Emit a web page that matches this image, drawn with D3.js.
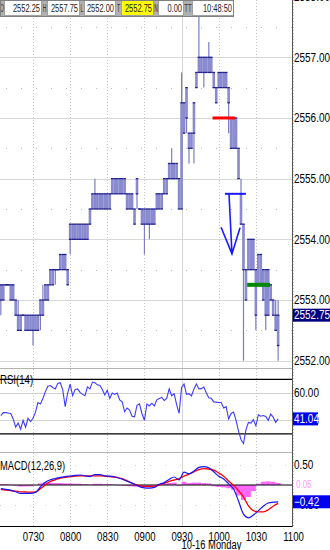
<!DOCTYPE html>
<html>
<head>
<meta charset="utf-8">
<script src="https://cdn.jsdelivr.net/npm/d3@7"></script>
<style>
  body { margin: 0; background: #fff; }
  svg { display: block; font-family: "Liberation Sans", Arial, sans-serif; }
</style>
</head>
<body>
<div id="chart"></div>
<script>
// 2-minute bars starting 07:04 (minutes after midnight)
const firstBar = 424, barStep = 2;

const opens = [2553.00,2553.25,2553.25,2553.25,2553.25,2553.00,2553.00,2552.75,2552.50,2552.75,
  2552.75,2552.50,2552.75,2552.50,2552.75,2552.50,2552.75,2553.00,2553.00,2553.25,
  2553.25,2553.50,2553.50,2553.50,2553.50,2553.75,2553.50,2553.50,2554.00,2554.25,
  2554.00,2554.25,2554.00,2554.25,2554.00,2554.25,2554.25,2554.50,2554.75,2554.50,
  2554.75,2554.50,2554.75,2554.50,2554.75,2554.75,2555.00,2554.75,2555.00,2554.75,
  2555.00,2554.75,2554.50,2554.75,2554.50,2554.75,2554.50,2554.50,2554.25,2554.50,
  2554.25,2554.50,2554.25,2554.50,2554.75,2554.50,2554.75,2555.00,2555.00,2555.25,
  2555.00,2555.25,2555.00,2554.50,2556.25,2556.00,2555.75,2555.50,2555.75,2556.50,
  2556.75,2557.00,2556.75,2557.00,2556.75,2557.00,2556.75,2556.50,2556.50,2556.75,
  2556.50,2556.75,2556.50,2556.00,2555.50,2556.00,2555.50,2554.75,2554.25,2553.50,
  2553.50,2554.00,2553.50,2553.50,2553.25,2553.75,2553.50,2552.75,2553.50,2553.00,
  2553.00,2552.75,2552.25];
const highs = [2553.25,2553.25,2553.25,2553.25,2553.25,2553.25,2553.00,2553.00,2552.75,2552.75,
  2552.75,2552.75,2552.75,2552.75,2552.75,2552.75,2553.00,2553.25,2553.25,2553.25,
  2553.50,2553.50,2553.50,2553.50,2553.75,2553.75,2553.75,2553.50,2554.25,2554.25,
  2554.25,2554.25,2554.25,2554.25,2554.25,2554.25,2554.50,2554.75,2555.00,2554.75,
  2554.75,2554.75,2554.75,2554.75,2554.75,2555.00,2555.00,2555.00,2555.00,2555.00,
  2555.00,2554.75,2554.75,2554.75,2554.50,2555.00,2554.50,2554.50,2554.50,2554.50,
  2554.50,2554.50,2554.50,2554.75,2554.75,2554.75,2555.00,2555.00,2555.25,2555.50,
  2555.25,2555.25,2555.00,2556.75,2556.25,2556.50,2555.75,2555.75,2556.25,2556.75,
  2557.75,2557.00,2557.00,2557.00,2557.25,2557.00,2556.75,2556.50,2556.75,2556.75,
  2556.75,2556.75,2556.50,2556.00,2556.00,2556.00,2555.50,2555.00,2554.25,2553.50,
  2554.00,2554.00,2554.00,2553.50,2553.75,2553.75,2553.50,2553.50,2553.50,2553.25,
  2553.00,2553.00,2553.00];
const lows = [2552.75,2553.00,2553.25,2553.25,2553.00,2553.00,2552.75,2552.50,2552.50,2552.75,
  2552.50,2552.50,2552.50,2552.25,2552.50,2552.50,2552.50,2552.75,2553.00,2553.00,
  2553.25,2553.25,2553.25,2553.50,2553.50,2553.50,2553.50,2553.25,2553.75,2554.00,
  2554.00,2554.00,2554.00,2554.00,2554.00,2554.00,2554.25,2554.50,2554.50,2554.50,
  2554.50,2554.50,2554.50,2554.50,2554.50,2554.75,2554.75,2554.75,2554.75,2554.75,
  2554.75,2554.50,2554.50,2554.50,2554.25,2554.50,2554.50,2554.25,2553.75,2554.25,
  2554.00,2554.25,2554.25,2554.50,2554.50,2554.50,2554.75,2554.75,2555.00,2555.00,
  2555.00,2555.00,2554.50,2554.50,2555.75,2555.75,2555.25,2555.50,2555.25,2556.50,
  2556.75,2556.75,2556.50,2556.75,2556.75,2556.75,2556.50,2556.25,2556.50,2556.50,
  2556.50,2556.50,2555.75,2555.50,2555.50,2555.50,2555.00,2554.25,2552.00,2553.00,
  2553.50,2553.50,2553.50,2552.50,2553.25,2553.25,2553.00,2552.50,2552.75,2553.00,
  2552.75,2552.50,2552.00];
const closes = [2553.25,2553.00,2553.25,2553.25,2553.00,2553.25,2552.75,2552.50,2552.75,2552.75,
  2552.50,2552.75,2552.50,2552.75,2552.50,2552.75,2553.00,2552.75,2553.25,2553.00,
  2553.50,2553.25,2553.50,2553.50,2553.75,2553.50,2553.75,2553.25,2554.25,2554.00,
  2554.25,2554.00,2554.25,2554.00,2554.25,2554.00,2554.50,2554.75,2554.50,2554.75,
  2554.50,2554.75,2554.50,2554.75,2554.50,2555.00,2554.75,2555.00,2554.75,2555.00,
  2554.75,2554.50,2554.75,2554.50,2554.25,2555.00,2554.50,2554.25,2554.50,2554.25,
  2554.50,2554.25,2554.50,2554.75,2554.50,2554.75,2555.00,2554.75,2555.25,2555.00,
  2555.25,2555.00,2554.50,2556.25,2555.75,2556.50,2555.50,2555.75,2556.25,2556.75,
  2557.00,2556.75,2557.00,2556.75,2557.00,2556.75,2556.50,2556.25,2556.75,2556.50,
  2556.75,2556.50,2556.25,2555.50,2556.00,2555.50,2555.00,2554.25,2553.50,2553.00,
  2554.00,2553.50,2554.00,2552.75,2553.75,2553.25,2553.00,2553.50,2552.75,2553.25,
  2552.75,2552.50,2552.75];

// RSI(14), one value per bar
const rsi = [43.5,45.6,45.6,45.3,45,41,35,38,33.5,40,
  35,41.5,39,41.5,46,53,52,56,61,65,
  65.5,64,63,67,67.5,62.5,50,60,66.5,58,
  62.5,63,60.5,59,58,64.5,63,68,67.5,66,
  65.5,62.5,58.5,62,56,60,59,60,55,53.6,
  46.3,49,47.5,43,42.6,51,52,45,40,52,
  50.5,52.5,50.5,55,56,56.8,54.5,56,63,58,
  59.5,51.5,45,64,66.5,59,59.5,57.8,63,66.6,
  63,63.2,64.4,60,56.5,56.1,53.5,53.3,53,53,
  49,50,41,45,46,40,32,26,23,33,
  38.5,38,40.5,36,44,43,43.5,42.8,40,44.5,
  42.3,38.5,41.04];

// MACD(12,26,9), one value every 2 bars
const macdStep = 4;
const macd = [-0.09,-0.11,-0.13,-0.17,-0.21,-0.21,-0.21,-0.18,-0.05,0.07,
  0.13,0.16,0.19,0.21,0.225,0.24,0.25,0.23,0.21,0.26,
  0.26,0.23,0.22,0.2,0.17,0.12,0.07,0.02,-0.04,-0.07,
  -0.08,-0.06,0.02,0.06,0.14,0.2,0.13,0.32,0.28,0.35,
  0.44,0.46,0.43,0.33,0.22,0.15,0.03,-0.1,-0.4,-0.73,
  -0.82,-0.75,-0.64,-0.53,-0.45,-0.43,-0.42];
const signal = [-0.11,-0.13,-0.14,-0.155,-0.17,-0.175,-0.18,-0.175,-0.09,0.0,
  0.09,0.13,0.17,0.19,0.21,0.22,0.23,0.23,0.225,0.228,
  0.23,0.225,0.21,0.2,0.17,0.135,0.08,0.02,-0.01,-0.04,
  -0.04,-0.03,0.0,0.04,0.09,0.125,0.16,0.22,0.27,0.33,
  0.385,0.41,0.4,0.37,0.3,0.22,0.1,-0.01,-0.14,-0.3,
  -0.52,-0.64,-0.67,-0.67,-0.62,-0.53,-0.46];
const hist = [0.02,0.02,0.01,-0.015,-0.04,-0.035,-0.03,-0.005,0.04,0.07,
  0.06,0.05,0.05,0.04,0.04,0.03,0.03,0.02,0.01,0.03,
  0.03,0.02,0.02,0.01,-0.01,-0.02,-0.03,-0.04,-0.05,-0.05,
  -0.04,-0.02,0.02,0.03,0.05,0.06,-0.02,0.08,0.05,0.06,
  0.06,0.05,0.04,-0.03,-0.05,-0.06,-0.08,-0.12,-0.26,-0.37,
  -0.3,-0.15,0.03,0.08,0.09,0.08,0.05];

const priceTicks = [2552, 2553, 2554, 2555, 2556, 2557, 2558];
const timeTicks = [450, 480, 510, 540, 570, 600, 630, 660];
const sessionOpen = 570;
const dayLabel = "10-16 Monday";

// drawn annotations: [start, end] minutes and price level
const markTimes = [[595, 613], [605, 622], [623, 641.5]];
const markPrices = [2556.0, 2554.75, 2553.25];
const arrowShaft = [[608.3, 2554.76], [610.7, 2553.76]];
const arrowWings = [[601.9, 2554.2], [617.2, 2554.19]];

const infoLabels = ["O", "H", "L", "T", "N", "TT"];
const infoValues = ["2552.25", "2557.75", "2552.00", "2552.75", "0.00", "10:48:50"];

const width = 330, height = 550, axisX = 292;

const svg = d3.select("#chart").append("svg")
  .attr("width", width).attr("height", height);

// squeeze text horizontally to mimic the narrow terminal font
function squeeze(sel, k) {
  sel.each(function() {
    const w = this.getComputedTextLength();
    if (w > 0) d3.select(this).attr("textLength", w * k).attr("lengthAdjust", "spacingAndGlyphs");
  });
}

const x = d3.scaleLinear().domain([450, 660]).range([33, 293]);
const yP = d3.scaleLinear().domain([2551.896, 2557.944]).range([367, 0]);
const yR = d3.scaleLinear().domain([60, 40]).range([393, 420.3]);
const yM = d3.scaleLinear().domain([0.5, 0]).range([465, 485]);

const panels = [[0, 367], [369, 451], [453, 526]];
const defs = svg.append("defs");
panels.forEach((p, i) => {
  defs.append("clipPath").attr("id", "clip" + i)
    .append("rect").attr("x", 0).attr("y", p[0]).attr("width", axisX).attr("height", p[1] - p[0]);
});

// vertical grid
const vg = svg.append("g");
timeTicks.forEach(t => {
  vg.append("line")
    .attr("x1", Math.round(x(t)) + 0.5).attr("x2", Math.round(x(t)) + 0.5)
    .attr("y1", 0).attr("y2", 526)
    .attr("stroke", t === sessionOpen ? "#d4d4d4" : "#c4c4c4")
    .attr("stroke-dasharray", t === sessionOpen ? null : "1,2");
});

// price grid
const g0 = svg.append("g").attr("clip-path", "url(#clip0)");
priceTicks.forEach(p => {
  g0.append("line").attr("x1", 0).attr("x2", axisX)
    .attr("y1", Math.round(yP(p)) + 0.5).attr("y2", Math.round(yP(p)) + 0.5)
    .attr("stroke", "#d8d8d8");
  g0.append("line").attr("x1", 6).attr("x2", axisX)
    .attr("y1", Math.round(yP(p - 0.5)) + 0.5).attr("y2", Math.round(yP(p - 0.5)) + 0.5)
    .attr("stroke", "#b8b8b8").attr("stroke-dasharray", "1,14");
});

// bars: wick underneath, body on top with navy open/close edges
const bars = opens.map((o, i) => ({ t: firstBar + barStep * i, o, h: highs[i], l: lows[i], c: closes[i] }));
const step = x(firstBar + barStep) - x(firstBar);
const bw = step + 0.15;
g0.selectAll("line.wick").data(bars).enter().append("line")
  .attr("class", "wick")
  .attr("x1", d => x(d.t)).attr("x2", d => x(d.t))
  .attr("y1", d => yP(d.h)).attr("y2", d => yP(d.l))
  .attr("stroke", "#7c7cc6").attr("stroke-width", 1.2);
g0.selectAll("rect.body").data(bars).enter().append("rect")
  .attr("class", "body")
  .attr("x", d => x(d.t) - bw / 2).attr("width", bw)
  .attr("y", d => yP(Math.max(d.o, d.c)))
  .attr("height", d => yP(Math.min(d.o, d.c)) - yP(Math.max(d.o, d.c)))
  .attr("fill", "#8a8ad0");
["top", "bot"].forEach(side => {
  g0.selectAll("line." + side).data(bars).enter().append("line")
    .attr("class", side)
    .attr("x1", d => x(d.t) - step / 2).attr("x2", d => x(d.t) + step / 2)
    .attr("y1", d => yP(side === "top" ? Math.max(d.o, d.c) : Math.min(d.o, d.c)))
    .attr("y2", d => yP(side === "top" ? Math.max(d.o, d.c) : Math.min(d.o, d.c)))
    .attr("stroke", "#1e1e8c").attr("stroke-width", 1.3);
});

// annotations
const markColors = ["#ff0000", "#1a1aff", "#008800"];
const markWidths = [3, 2, 4];
markTimes.forEach((m, i) => {
  g0.append("line")
    .attr("x1", x(m[0])).attr("x2", x(m[1]))
    .attr("y1", yP(markPrices[i])).attr("y2", yP(markPrices[i]))
    .attr("stroke", markColors[i]).attr("stroke-width", markWidths[i]);
});
const tip = arrowShaft[1];
g0.append("path")
  .attr("d", d3.line()([arrowShaft[0], tip].map(p => [x(p[0]), yP(p[1])])) +
    d3.line()([arrowWings[0], tip, arrowWings[1]].map(p => [x(p[0]), yP(p[1])])))
  .attr("fill", "none").attr("stroke", "#1a1aff").attr("stroke-width", 1.6);

// RSI panel
const g1 = svg.append("g").attr("clip-path", "url(#clip1)");
[60, 40].forEach(v => g1.append("line").attr("x1", 0).attr("x2", axisX)
  .attr("y1", Math.round(yR(v)) + 0.5).attr("y2", Math.round(yR(v)) + 0.5).attr("stroke", "#d0d0d0"));
[70, 30].forEach(v => g1.append("line").attr("x1", 0).attr("x2", axisX)
  .attr("y1", yR(v)).attr("y2", yR(v)).attr("stroke", "#000").attr("stroke-width", 1.3));
g1.append("path").datum(rsi)
  .attr("fill", "none").attr("stroke", "#3b3bff").attr("stroke-width", 1.1)
  .attr("d", d3.line().x((d, i) => x(firstBar + barStep * i)).y(d => yR(d)));
squeeze(svg.append("text").attr("x", 0).attr("y", 384).attr("font-size", 12).text("RSI(14)"), 0.8);

// MACD panel
const g2 = svg.append("g").attr("clip-path", "url(#clip2)");
[0.5, -0.5].forEach(v => g2.append("line").attr("x1", 0).attr("x2", axisX)
  .attr("y1", Math.round(yM(v)) + 0.5).attr("y2", Math.round(yM(v)) + 0.5)
  .attr("stroke", "#d0d0d0").attr("stroke-dasharray", "1,14"));
const hw = x(firstBar + macdStep) - x(firstBar);
g2.selectAll("rect.hist").data(hist).enter().append("rect")
  .attr("x", (d, i) => x(firstBar + macdStep * i) - hw / 2).attr("width", hw)
  .attr("y", d => yM(Math.max(d, 0))).attr("height", d => Math.abs(yM(d) - yM(0)))
  .attr("fill", "#ff66ff");
g2.append("line").attr("x1", 0).attr("x2", axisX).attr("y1", yM(0)).attr("y2", yM(0))
  .attr("stroke", "#000").attr("stroke-width", 1);
const mline = d3.line().x((d, i) => x(firstBar + macdStep * i)).y(d => yM(d)).curve(d3.curveMonotoneX);
g2.append("path").datum(signal).attr("fill", "none").attr("stroke", "#ff0000").attr("stroke-width", 1.3).attr("d", mline);
g2.append("path").datum(macd).attr("fill", "none").attr("stroke", "#1515ff").attr("stroke-width", 1.2).attr("d", mline);
squeeze(svg.append("text").attr("x", 0).attr("y", 470).attr("font-size", 12).text("MACD(12,26,9)"), 0.78);

// separators and frame
[368, 452].forEach(yy => svg.append("line").attr("x1", 0).attr("x2", axisX)
  .attr("y1", yy + 0.5).attr("y2", yy + 0.5).attr("stroke", "#b4b4b4"));
svg.append("line").attr("x1", 0).attr("x2", axisX).attr("y1", 526.5).attr("y2", 526.5).attr("stroke", "#000");
svg.append("line").attr("x1", axisX + 0.5).attr("x2", axisX + 0.5).attr("y1", 0).attr("y2", 527).attr("stroke", "#555");

// right axes
function rightAxis(scale, vals, fmt) {
  const a = svg.append("g").attr("transform", `translate(${axisX},0)`)
    .call(d3.axisRight(scale).tickValues(vals).tickFormat(fmt).tickSize(0).tickPadding(2));
  a.select(".domain").remove();
  a.selectAll("text").attr("font-size", 12).attr("fill", "#000").attr("font-family", null);
  squeeze(a.selectAll("text"), 0.83);
  return a;
}
rightAxis(yP, priceTicks, d3.format(".2f"));
rightAxis(yR, [60, 40], d3.format(".2f"));
rightAxis(yM, [0.5, -0.5], d3.format(".2f"));

function valueBox(yy, txt, bg, w) {
  svg.append("rect").attr("x", axisX + 1).attr("y", yy - 6.5).attr("width", w).attr("height", 13).attr("fill", bg);
  squeeze(svg.append("text").attr("x", axisX + 2).attr("y", yy).attr("dy", "0.36em")
    .attr("font-size", 12).attr("fill", "#fff").text(txt), 0.83);
}
valueBox(yP(closes[closes.length - 1]), d3.format(".2f")(closes[closes.length - 1]), "#000080", width - axisX - 1);
valueBox(yR(rsi[rsi.length - 1]), d3.format(".2f")(rsi[rsi.length - 1]), "#0000f0", 25);
valueBox(yM(macd[macd.length - 1]), d3.format(".2f")(macd[macd.length - 1]), "#0000f0", width - axisX - 1);
squeeze(svg.append("text").attr("x", axisX + 4).attr("y", yM(0)).attr("dy", "0.34em")
  .attr("font-size", 10).attr("fill", "#ff99ff").text(d3.format(".2f")(hist[hist.length - 1])), 0.8);

// time axis
const xa = svg.append("g").attr("transform", "translate(0,530)")
  .call(d3.axisBottom(x).tickValues(timeTicks).tickSize(0).tickPadding(2)
    .tickFormat(t => String(Math.floor(t / 60)).padStart(2, "0") + String(t % 60).padStart(2, "0")));
xa.select(".domain").remove();
xa.selectAll("text").attr("font-size", 12).attr("fill", "#000").attr("font-family", null);
squeeze(xa.selectAll("text"), 0.8);
squeeze(svg.append("text").attr("x", x(sessionOpen)).attr("y", 549).attr("font-size", 12).text(dayLabel), 0.78);

// quote strip
const cellW = [[4, 38], [5, 33], [4, 32], [5, 33], [4, 26], [8, 42]];
const strip = svg.append("g");
let cx = 0;
infoLabels.forEach((lab, i) => {
  const [lw, vw] = cellW[i];
  strip.append("rect").attr("x", cx).attr("y", 0).attr("width", lw).attr("height", 16).attr("fill", "#b0b0b0");
  squeeze(strip.append("text").attr("x", cx + lw / 2).attr("y", 12).attr("text-anchor", "middle")
    .attr("font-size", 10).attr("fill", "#333").text(lab), lab === "TT" ? 0.6 : 0.5);
  cx += lw;
  strip.append("rect").attr("x", cx + 0.5).attr("y", 0.5).attr("width", vw - 1).attr("height", 15)
    .attr("fill", lab === "T" ? "#ffff00" : "#fff").attr("stroke", "#a0a0a0");
  squeeze(strip.append("text").attr("x", cx + vw - 2).attr("y", 12).attr("text-anchor", "end")
    .attr("font-size", 11).attr("fill", "#222").text(infoValues[i]), 0.68);
  cx += vw;
});
strip.append("rect").attr("x", 0.5).attr("y", 0.5).attr("width", cx - 1).attr("height", 16)
  .attr("fill", "none").attr("stroke", "#808080");
</script>
</body>
</html>
